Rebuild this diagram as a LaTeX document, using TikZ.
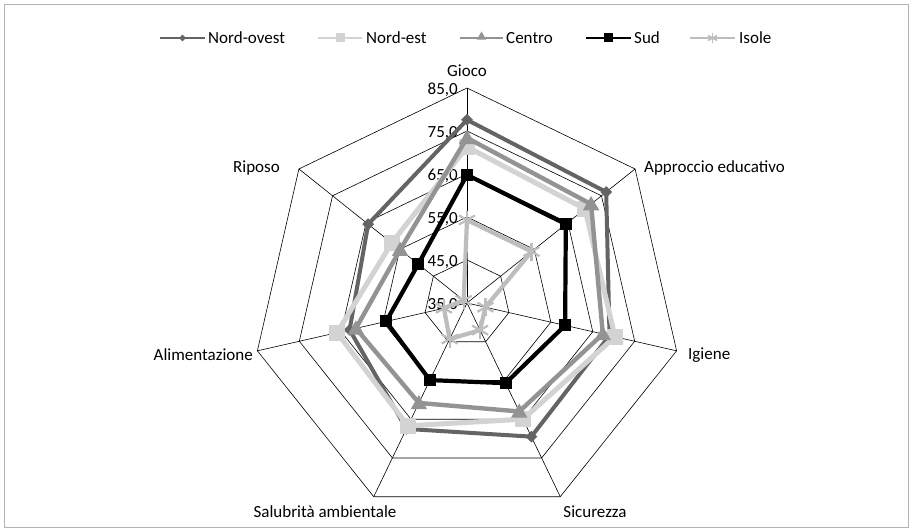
\documentclass[tikz,border=0pt]{standalone}
\usepackage{fontspec}
\setmainfont{Carlito}
\usetikzlibrary{shapes.geometric}
\definecolor{cNO}{HTML}{646464}
\definecolor{cNE}{HTML}{D3D3D3}
\definecolor{cCE}{HTML}{939393}
\definecolor{cSU}{HTML}{000000}
\definecolor{cIS}{HTML}{BDBDBD}
\begin{document}
\begin{tikzpicture}[x=1pt,y=-1pt,
  lbl/.style={font=\fontsize{17}{19}\selectfont, inner sep=0pt},
  gridline/.style={black, line width=0.6pt},
  noline/.style={cNO, line width=4pt, line join=round},
  neline/.style={cNE, line width=5pt, line join=round},
  celine/.style={cCE, line width=4.4pt, line join=round},
  suline/.style={cSU, line width=4.2pt, line join=round},
  isline/.style={cIS, line width=4.2pt, line join=round},
  nomark/.style={diamond, fill=cNO, inner sep=0pt, minimum width=12pt, minimum height=12pt},
  nemark/.style={rectangle, fill=cNE, inner sep=0pt, minimum size=16pt},
  cemark/.style={regular polygon, regular polygon sides=3, fill=cCE, inner sep=0pt, minimum size=19pt},
  sumark/.style={rectangle, fill=cSU, inner sep=0pt, minimum size=12pt},
  ismark/.style={cIS, line width=2.2pt},
  lnomark/.style={diamond, fill=cNO, inner sep=0pt, minimum width=7pt, minimum height=7pt},
  lnemark/.style={rectangle, fill=cNE, inner sep=0pt, minimum size=9pt},
  lcemark/.style={regular polygon, regular polygon sides=3, fill=cCE, inner sep=0pt, minimum size=11pt},
  lsumark/.style={rectangle, fill=cSU, inner sep=0pt, minimum size=9pt},
]
\useasboundingbox (0,0) rectangle (913,532);
\fill[white] (0,0) rectangle (913,532);
\draw[gray!60, line width=0.8pt] (4.5,4.5) rectangle (908.5,527.5);

% centre and axes
\coordinate (O) at (467,303);
\foreach \k in {0,...,6}{
  \coordinate (A-\k) at ({467+215*cos(90-\k*360/7)},{303-215*sin(90-\k*360/7)});
}
% rings
\foreach \r [count=\i] in {43,86,129,172,215}{
  \foreach \k in {0,...,6}{
    \coordinate (R\i-\k) at ({467+\r*cos(90-\k*360/7)},{303-\r*sin(90-\k*360/7)});
  }
  \draw[gridline] (R\i-0) -- (R\i-1) -- (R\i-2) -- (R\i-3) -- (R\i-4) -- (R\i-5) -- (R\i-6) -- cycle;
}
\foreach \k in {0,...,6}{ \draw[gridline] (O) -- (A-\k); }

% value labels
\foreach \v [count=\i] in {35,45,55,65,75,85}{
  \node[lbl, anchor=east] (val-\i) at (458,{303-(\v-35)*4.3+2}) {\v,0};
}

% category labels
\node[lbl] (cat-0) at (467,71) {Gioco};
\node[lbl, anchor=west] (cat-1) at (644,168) {Approccio educativo};
\node[lbl, anchor=west] (cat-2) at (688,355) {Igiene};
\node[lbl] (cat-3) at (595,512) {Sicurezza};
\node[lbl] (cat-4) at (325,512) {Salubrità ambientale};
\node[lbl, anchor=east] (cat-5) at (253,355) {Alimentazione};
\node[lbl, anchor=east] (cat-6) at (280,168) {Riposo};

% data points
\foreach \v [count=\k from 0] in {77.6,76.4,69,69.5,67.5,63,64.4}{
  \coordinate (NO-\k) at ({467+(\v-35)*4.3*cos(90-\k*360/7)},{303-(\v-35)*4.3*sin(90-\k*360/7)});}
\foreach \v [count=\k from 0] in {71.3,70.1,70.3,65,66.7,66,57.4}{
  \coordinate (NE-\k) at ({467+(\v-35)*4.3*cos(90-\k*360/7)},{303-(\v-35)*4.3*sin(90-\k*360/7)});}
\foreach \v [count=\k from 0] in {73.4,71.9,67.4,63,60.8,61.5,54.9}{
  \coordinate (CE-\k) at ({467+(\v-35)*4.3*cos(90-\k*360/7)},{303-(\v-35)*4.3*sin(90-\k*360/7)});}
\foreach \v [count=\k from 0] in {64.8,64.4,58.4,55.7,54.9,54.3,49.5}{
  \coordinate (SU-\k) at ({467+(\v-35)*4.3*cos(90-\k*360/7)},{303-(\v-35)*4.3*sin(90-\k*360/7)});}
\foreach \v [count=\k from 0] in {54.3,54.2,39.4,42,44.3,40.5,36}{
  \coordinate (IS-\k) at ({467+(\v-35)*4.3*cos(90-\k*360/7)},{303-(\v-35)*4.3*sin(90-\k*360/7)});}

% series: Nord-ovest
\draw[noline] (NO-0) -- (NO-1) -- (NO-2) -- (NO-3) -- (NO-4) -- (NO-5) -- (NO-6) -- cycle;
\foreach \k in {0,...,6}{ \node[nomark] (NOm-\k) at (NO-\k) {}; }
% Nord-est
\draw[neline] (NE-0) -- (NE-1) -- (NE-2) -- (NE-3) -- (NE-4) -- (NE-5) -- (NE-6) -- cycle;
\foreach \k in {0,...,6}{ \node[nemark] (NEm-\k) at (NE-\k) {}; }
% Centro
\draw[celine] (CE-0) -- (CE-1) -- (CE-2) -- (CE-3) -- (CE-4) -- (CE-5) -- (CE-6) -- cycle;
\foreach \k in {0,...,6}{ \node[cemark] (CEm-\k) at ([yshift=-1.5pt]CE-\k) {}; }
% Sud
\draw[suline] (SU-0) -- (SU-1) -- (SU-2) -- (SU-3) -- (SU-4) -- (SU-5) -- (SU-6) -- cycle;
\foreach \k in {0,...,6}{ \node[sumark] (SUm-\k) at (SU-\k) {}; }
% Isole
\draw[isline] (IS-0) -- (IS-1) -- (IS-2) -- (IS-3) -- (IS-4) -- (IS-5) -- (IS-6) -- cycle;
\foreach \k in {0,...,6}{
  \draw[ismark] (IS-\k) +(0,-9) -- +(0,9);
  \draw[ismark] (IS-\k) +(-8,-4.6) -- +(8,4.6);
  \draw[ismark] (IS-\k) +(-8,4.6) -- +(8,-4.6);
}

% legend
\coordinate (L1a) at (160,38); \coordinate (L1b) at (205,38);
\draw[cNO, line width=2.8pt] (L1a) -- (L1b);
\node[lnomark] (L1m) at (182.5,38) {};
\node[lbl, anchor=west] (L1t) at (208,38) {Nord-ovest};

\coordinate (L2a) at (318,38); \coordinate (L2b) at (362,38);
\draw[cNE, line width=2.8pt] (L2a) -- (L2b);
\node[lnemark] (L2m) at (340,38) {};
\node[lbl, anchor=west] (L2t) at (366,38) {Nord-est};

\coordinate (L3a) at (460,38); \coordinate (L3b) at (503,38);
\draw[cCE, line width=2.8pt] (L3a) -- (L3b);
\node[lcemark] (L3m) at (481.5,37) {};
\node[lbl, anchor=west] (L3t) at (506,38) {Centro};

\coordinate (L4a) at (586,38); \coordinate (L4b) at (631,38);
\draw[cSU, line width=2.8pt] (L4a) -- (L4b);
\node[lsumark] (L4m) at (608.5,38) {};
\node[lbl, anchor=west] (L4t) at (634,38) {Sud};

\coordinate (L5a) at (690,38); \coordinate (L5b) at (735,38);
\draw[cIS, line width=2.8pt] (L5a) -- (L5b);
\coordinate (L5m) at (712.5,38);
\draw[cIS, line width=1.5pt] (L5m) +(0,-5) -- +(0,5);
\draw[cIS, line width=1.5pt] (L5m) +(-4.5,-2.5) -- +(4.5,2.5);
\draw[cIS, line width=1.5pt] (L5m) +(-4.5,2.5) -- +(4.5,-2.5);
\node[lbl, anchor=west] (L5t) at (739,38) {Isole};
\end{tikzpicture}
\end{document}
